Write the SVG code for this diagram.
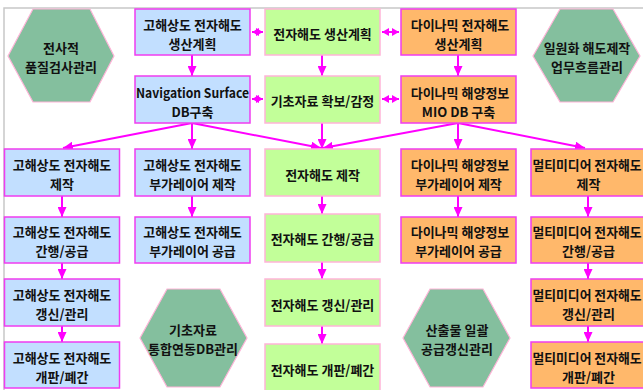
<svg xmlns="http://www.w3.org/2000/svg" width="643" height="390" viewBox="0 0 643 390">
<defs>
<style>
text{font-family:"Noto Sans CJK KR","Noto Sans",sans-serif;font-weight:bold;font-size:13px;fill:#111;text-anchor:middle;dominant-baseline:central}
.b{fill:#C2DFFF;stroke:#F03CF0;stroke-width:1.5}
.g{fill:#C2FF99;stroke:#FFB4D8;stroke-width:1.5}
.o{fill:#FFB86B;stroke:#F03CF0;stroke-width:1.5}
.h{fill:#84BF9E;stroke:#FFB4D8;stroke-width:1.2}
.c{stroke:#FF00FF;stroke-width:2;fill:none}
</style>
<marker id="ar" markerUnits="userSpaceOnUse" markerWidth="10" markerHeight="9" refX="10" refY="4.5" orient="auto"><path d="M0,0 L10,4.5 L0,9 z" fill="#FF00FF"/></marker>
<marker id="da" markerUnits="userSpaceOnUse" markerWidth="7" markerHeight="8" refX="7" refY="4" orient="auto-start-reverse"><path d="M0,0 L7,4 L0,8 z" fill="#FF00FF"/></marker>
</defs>
<rect width="643" height="390" fill="#fff"/>
<path d="M4,390 V8 H643" fill="none" stroke="#C8C8C8" stroke-width="1.5"/>

<g id="connectors">
<line class="c" x1="252" y1="32" x2="263" y2="32" marker-start="url(#da)" marker-end="url(#da)"/>
<line class="c" x1="382" y1="32" x2="399" y2="32" marker-start="url(#da)" marker-end="url(#da)"/>
<line class="c" x1="252" y1="99" x2="263" y2="99" marker-start="url(#da)" marker-end="url(#da)"/>
<line class="c" x1="382" y1="99" x2="399" y2="99" marker-start="url(#da)" marker-end="url(#da)"/>
<line class="c" x1="192" y1="55" x2="192" y2="76" marker-end="url(#ar)"/>
<line class="c" x1="322" y1="55" x2="322" y2="76" marker-end="url(#ar)"/>
<line class="c" x1="458" y1="55" x2="458" y2="76" marker-end="url(#ar)"/>
<line class="c" x1="192" y1="123" x2="63" y2="148" marker-end="url(#ar)"/>
<line class="c" x1="192" y1="123" x2="192" y2="149" marker-end="url(#ar)"/>
<line class="c" x1="192" y1="123" x2="321" y2="148" marker-end="url(#ar)"/>
<line class="c" x1="322" y1="123" x2="322" y2="149" marker-end="url(#ar)"/>
<line class="c" x1="458" y1="123" x2="323" y2="148" marker-end="url(#ar)"/>
<line class="c" x1="458" y1="123" x2="458" y2="149" marker-end="url(#ar)"/>
<line class="c" x1="458" y1="123" x2="585" y2="148" marker-end="url(#ar)"/>
<line class="c" x1="62" y1="196" x2="62" y2="217" marker-end="url(#ar)"/>
<line class="c" x1="62" y1="263" x2="62" y2="279" marker-end="url(#ar)"/>
<line class="c" x1="62" y1="326" x2="62" y2="342" marker-end="url(#ar)"/>
<line class="c" x1="192" y1="196" x2="192" y2="217" marker-end="url(#ar)"/>
<line class="c" x1="322" y1="196" x2="322" y2="214" marker-end="url(#ar)"/>
<line class="c" x1="322" y1="262" x2="322" y2="279" marker-end="url(#ar)"/>
<line class="c" x1="322" y1="326" x2="322" y2="344" marker-end="url(#ar)"/>
<line class="c" x1="458" y1="196" x2="458" y2="217" marker-end="url(#ar)"/>
<line class="c" x1="588" y1="196" x2="588" y2="217" marker-end="url(#ar)"/>
<line class="c" x1="588" y1="263" x2="588" y2="279" marker-end="url(#ar)"/>
<line class="c" x1="588" y1="326" x2="588" y2="342" marker-end="url(#ar)"/>
</g>

<g id="hex-qa"><polygon class="h" points="8,56 33,9 90,9 114,56 90,102 33,102"/><text x="61" y="47">전사적</text><text x="61" y="66">품질검사관리</text></g>
<g id="hex-flow"><polygon class="h" points="533,56 560,9 613,9 640,56 613,102 560,102"/><text x="587" y="47">일원화 해도제작</text><text x="587" y="66">업무흐름관리</text></g>
<g id="hex-db"><polygon class="h" points="140,338 167,289 220,289 247,338 220,387 167,387"/><text x="193" y="329">기초자료</text><text x="193" y="348">통합연동DB관리</text></g>
<g id="hex-supply"><polygon class="h" points="403,338 430,289 483,289 510,338 483,387 430,387"/><text x="457" y="329">산출물 일괄</text><text x="457" y="348">공급갱신관리</text></g>

<g id="b-plan"><rect class="b" x="135" y="9" width="115" height="46"/><text x="192.5" y="24">고해상도 전자해도</text><text x="192.5" y="43">생산계획</text></g>
<g id="b-nav"><rect class="b" x="135" y="76" width="115" height="47"/><text x="192.5" y="92.5" textLength="113" lengthAdjust="spacingAndGlyphs">Navigation Surface</text><text x="192.5" y="111">DB구축</text></g>
<g id="g-plan"><rect class="g" x="265" y="9" width="115" height="46"/><text x="322.5" y="33">전자해도 생산계획</text></g>
<g id="g-base"><rect class="g" x="265" y="76" width="115" height="47"/><text x="322.5" y="100">기초자료 확보/감정</text></g>
<g id="o-plan"><rect class="o" x="401" y="9" width="115" height="46"/><text x="460" y="24">다이나믹 전자해도</text><text x="458.5" y="43">생산계획</text></g>
<g id="o-mio"><rect class="o" x="401" y="76" width="115" height="47"/><text x="460" y="92.5">다이나믹 해양정보</text><text x="458.5" y="111">MIO DB 구축</text></g>

<g id="b1-make"><rect class="b" x="4.5" y="149" width="115" height="47"/><text x="62" y="164">고해상도 전자해도</text><text x="62" y="183">제작</text></g>
<g id="b1-pub"><rect class="b" x="4.5" y="217" width="115" height="46"/><text x="62" y="231">고해상도 전자해도</text><text x="62" y="250">간행/공급</text></g>
<g id="b1-upd"><rect class="b" x="4.5" y="279" width="115" height="47"/><text x="62" y="294">고해상도 전자해도</text><text x="62" y="313">갱신/관리</text></g>
<g id="b1-rev"><rect class="b" x="4.5" y="342" width="115" height="46"/><text x="62" y="357">고해상도 전자해도</text><text x="62" y="376">개판/폐간</text></g>
<g id="b2-make"><rect class="b" x="135" y="149" width="115" height="47"/><text x="192.5" y="164">고해상도 전자해도</text><text x="192.5" y="183">부가레이어 제작</text></g>
<g id="b2-sup"><rect class="b" x="135" y="217" width="115" height="46"/><text x="192.5" y="231">고해상도 전자해도</text><text x="192.5" y="250">부가레이어 공급</text></g>

<g id="g-make"><rect class="g" x="265" y="149" width="115" height="47"/><text x="322.5" y="174">전자해도 제작</text></g>
<g id="g-pub"><rect class="g" x="265" y="214" width="115" height="48"/><text x="322.5" y="238">전자해도 간행/공급</text></g>
<g id="g-upd"><rect class="g" x="265" y="279" width="115" height="47"/><text x="322.5" y="304">전자해도 갱신/관리</text></g>
<g id="g-rev"><rect class="g" x="265" y="344" width="115" height="48"/><text x="322.5" y="369">전자해도 개판/폐간</text></g>

<g id="o-make"><rect class="o" x="401" y="149" width="115" height="47"/><text x="460" y="164">다이나믹 해양정보</text><text x="458.5" y="183">부가레이어 제작</text></g>
<g id="o-sup"><rect class="o" x="401" y="217" width="115" height="46"/><text x="460" y="231">다이나믹 해양정보</text><text x="458.5" y="250">부가레이어 공급</text></g>

<g id="m-make"><rect class="o" x="531" y="149" width="115" height="47"/><text x="587" y="164" textLength="109" lengthAdjust="spacingAndGlyphs">멀티미디어 전자해도</text><text x="588.5" y="183">제작</text></g>
<g id="m-pub"><rect class="o" x="531" y="217" width="115" height="46"/><text x="587" y="231" textLength="109" lengthAdjust="spacingAndGlyphs">멀티미디어 전자해도</text><text x="588.5" y="250">간행/공급</text></g>
<g id="m-upd"><rect class="o" x="531" y="279" width="115" height="47"/><text x="587" y="294" textLength="109" lengthAdjust="spacingAndGlyphs">멀티미디어 전자해도</text><text x="588.5" y="313">갱신/관리</text></g>
<g id="m-rev"><rect class="o" x="531" y="342" width="115" height="46"/><text x="587" y="357" textLength="109" lengthAdjust="spacingAndGlyphs">멀티미디어 전자해도</text><text x="588.5" y="376">개판/폐간</text></g>
</svg>
